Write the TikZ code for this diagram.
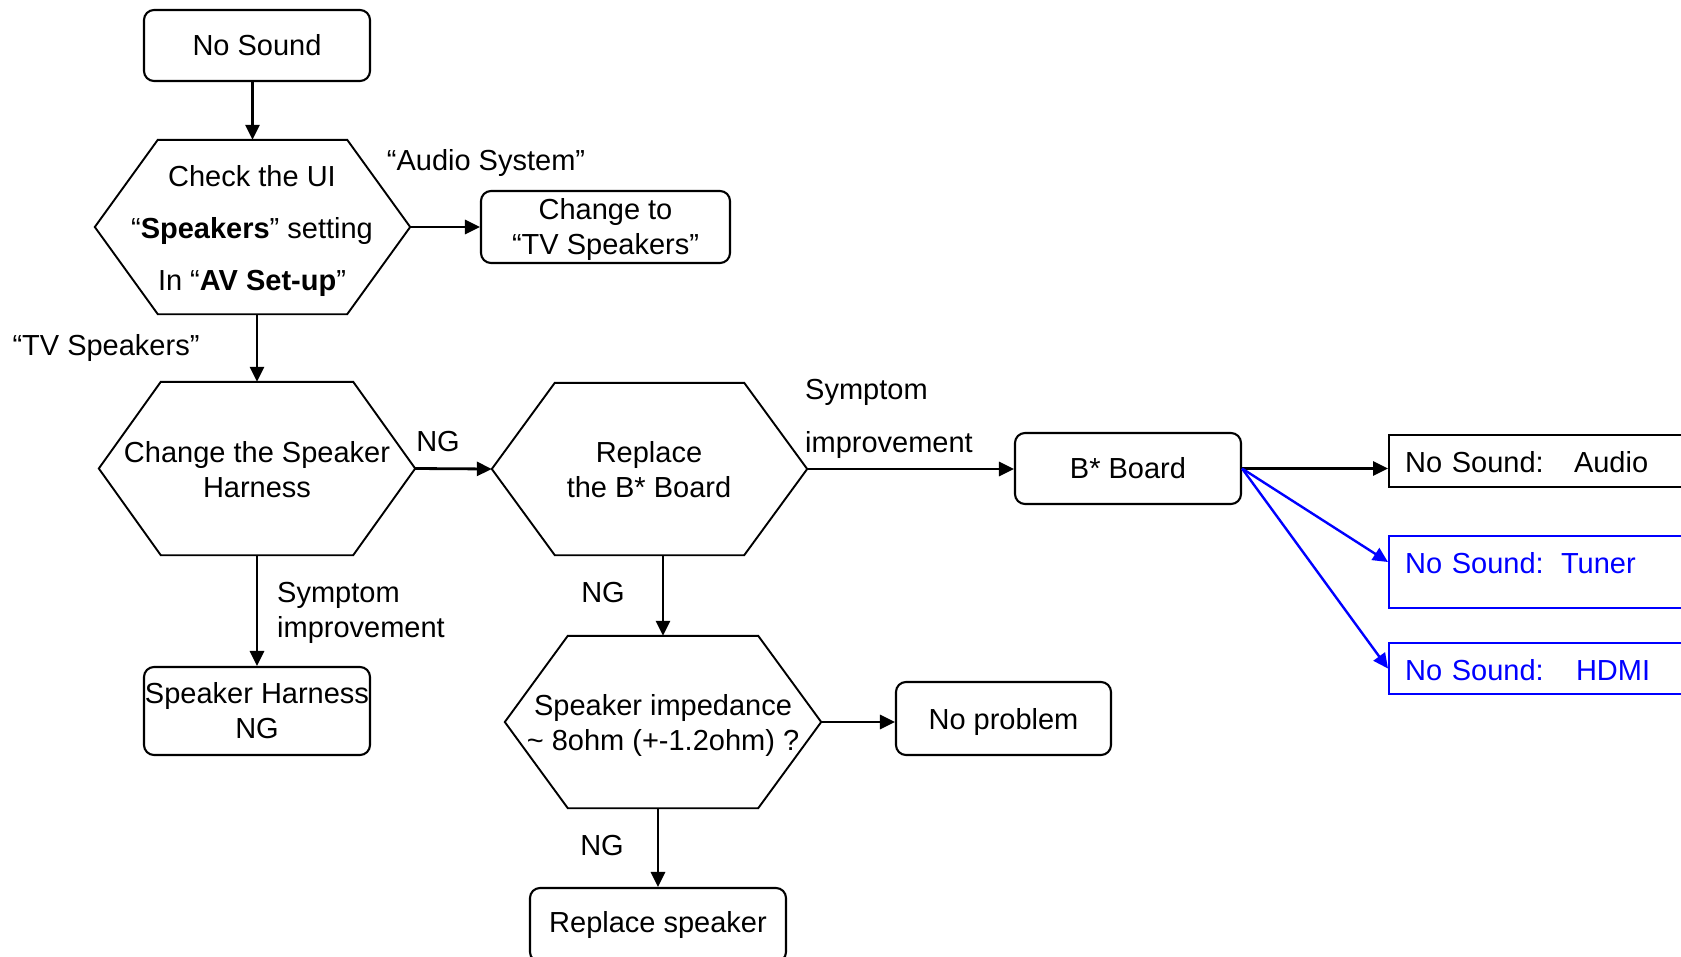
\documentclass[tikz,border=0pt]{standalone}
\usepackage{fontspec}
\setmainfont{Liberation Sans}
\usetikzlibrary{arrows.meta,calc}
\definecolor{nsblue}{RGB}{0,0,255}
\newcommand\drawhex[2]{%
  \draw[hexline] (#1.north west) -- (#1.north east) -- ($(#1.east)+(#2,0)$) coordinate (#1R)
    -- (#1.south east) -- (#1.south west) -- ($(#1.west)-(#2,0)$) coordinate (#1L) -- cycle;}
\begin{document}
\begin{tikzpicture}[x=1pt,y=-1pt,
  every node/.style={font=\fontsize{29}{35}\selectfont},
  rbox/.style={draw, line width=2.1pt, rounded corners=10pt, align=center, inner sep=0pt},
  hexbox/.style={inner sep=0pt, draw=none},
  hexline/.style={line width=1.9pt, line join=miter},
  htext/.style={inner sep=0pt, align=center},
  sbox/.style={draw, line width=2.1pt, anchor=north west, inner xsep=16pt, inner ysep=0pt,
    text width=300pt, align=left, text height=37.4pt},
  bluebox/.style={draw=nsblue, text=nsblue},
  arr/.style={line width=2.8pt, -{Triangle[length=15pt,width=14pt]}},
  barr/.style={arr, line width=2.4pt, draw=nsblue},
  lbl/.style={inner sep=0pt},
]
\useasboundingbox (0,0) rectangle (1681,956);
\clip (0,0) rectangle (1681,956);

% boxes
\node[rbox, minimum width=226pt, minimum height=71pt] (ns) at (257,45.5) {No Sound};
\node[rbox, minimum width=249pt, minimum height=72pt] (ct) at (605.5,227) {\rule{0pt}{27pt}Change to\\“TV Speakers”};
\node[rbox, minimum width=226pt, minimum height=71pt] (bb) at (1128,468.5) {B* Board};
\node[rbox, minimum width=226pt, minimum height=88pt] (sh) at (257,711) {Speaker Harness\\NG};
\node[rbox, minimum width=215pt, minimum height=73pt] (np) at (1003.5,718.5) {\rule{0pt}{27pt}No problem};
\node[rbox, minimum width=256pt, minimum height=74pt] (rs) at (658,925) {Replace speaker};

% right-hand result boxes
\node[sbox, text depth=14.6pt] (au) at (1388,434) {\makebox[169pt][l]{No Sound:}Audio};
\node[sbox, bluebox, text depth=34.6pt] (tu) at (1388,535) {\makebox[156pt][l]{No Sound:}Tuner};
\node[sbox, bluebox, text depth=13.6pt] (hd) at (1388,642) {\makebox[171pt][l]{No Sound:}HDMI};

% hexagons
\node[hexbox, minimum width=189pt, minimum height=174pt] (h1) at (252.5,227) {};
\drawhex{h1}{63}
\node[htext, font=\fontsize{29}{52}\selectfont] (h1t) at (252,231) {Check the UI\\“\textbf{Speakers}” setting\\In “\textbf{AV Set-up}”};

\node[hexbox, minimum width=192pt, minimum height=173pt] (h2) at (257,468.5) {};
\drawhex{h2}{62}
\node[htext] (h2t) at (257,470) {Change the Speaker\\Harness};

\node[hexbox, minimum width=189pt, minimum height=172pt] (h3) at (649.5,469) {};
\drawhex{h3}{63}
\node[htext] (h3t) at (649,470) {Replace\\the B* Board};

\node[hexbox, minimum width=190pt, minimum height=172pt] (h4) at (663,722) {};
\drawhex{h4}{63}
\node[htext] (h4t) at (663,725) {Speaker impedance\\\textasciitilde{} 8ohm (+-1.2ohm) ?};

% labels
\node[lbl] (lAS) at (486,163) {“Audio System”};
\node[lbl] (lTV) at (106,348) {“TV Speakers”};
\node[lbl] (lNG1) at (438,442) {NG};
\node[lbl, align=left, anchor=west, font=\fontsize{29}{53}\selectfont] (lSI1) at (805,419) {Symptom\\improvement};
\node[lbl, align=left, anchor=west] (lSI2) at (277,613) {Symptom\\improvement};
\node[lbl] (lNG2) at (603,593) {NG};
\node[lbl] (lNG3) at (602,846) {NG};

% connectors
\draw[arr] (h1.north |- ns.south) -- (h1.north);
\draw[arr] (h1R) -- (ct.west);
\draw[arr] (h2.north |- h1.south) -- (h2.north);
\draw[arr] (h2R) -- (h3L);
\draw[arr] (h3R) -- (h3R -| bb.west);
\draw[arr] (bb.east) -- (bb.east -| au.west);
\draw[barr] (bb.east) -- ([yshift=-27pt]tu.north west);
\draw[barr] (bb.east) -- (hd.west);
\draw[arr] (h2.south) -- (sh.north);
\draw[arr] (h4.north |- h3.south) -- (h4.north);
\draw[arr] (h4R) -- (h4R -| np.west);
\draw[arr] (rs.north |- h4.south) -- (rs.north);
\end{tikzpicture}
\end{document}
